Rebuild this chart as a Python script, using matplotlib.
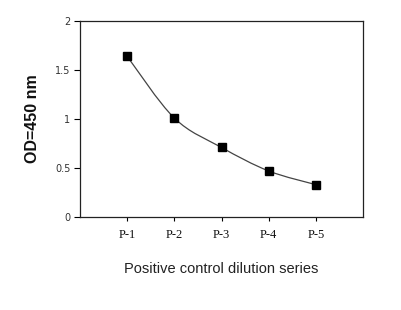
import matplotlib
matplotlib.use('Agg')
import matplotlib.pyplot as plt
import numpy as np
from matplotlib.path import Path
from matplotlib.patches import PathPatch

# Data
samples = ['P-1', 'P-2', 'P-3', 'P-4', 'P-5']
od_values = [1.64, 1.01, 0.71, 0.47, 0.33]

x = np.arange(1, len(samples) + 1)
y = np.array(od_values)

fig = plt.figure(figsize=(4.02, 3.10), dpi=100)
ax = fig.add_axes([0.199, 0.30, 0.704, 0.632])

# smoothed connecting line (Excel-style), Catmull-Rom -> cubic Bezier
pts = np.column_stack([x, y])
verts = [pts[0]]
codes = [Path.MOVETO]
for i in range(len(pts) - 1):
    p0 = pts[i - 1] if i > 0 else pts[i]
    p1 = pts[i]
    p2 = pts[i + 1]
    p3 = pts[i + 2] if i + 2 < len(pts) else pts[i + 1]
    c1 = p1 + (p2 - p0) / 6
    c2 = p2 - (p3 - p1) / 6
    verts += [c1, c2, p2]
    codes += [Path.CURVE4] * 3
ax.add_patch(PathPatch(Path(verts, codes), fill=False, edgecolor='#444444', lw=0.9))

ax.plot(x, y, linestyle='none', marker='s', markersize=5.5, color='black')

ax.set_xlim(0, 6)
ax.set_ylim(0, 2)
ax.set_xticks(x)
ax.set_xticklabels(samples, family='Liberation Serif', fontsize=9, color='#111111')
ax.set_yticks([0, 0.5, 1, 1.5, 2])
ax.set_yticklabels(['0', '0.5', '1', '1.5', '2'], family='DejaVu Sans', fontsize=7, color='#333333')
ax.tick_params(axis='y', direction='out', length=4, width=0.8, pad=3)
ax.tick_params(axis='x', direction='out', length=3, width=0.8, pad=6)

for s in ax.spines.values():
    s.set_linewidth(0.9)
    s.set_color('#222222')

ax.set_xlabel('Positive control dilution series', family='Liberation Sans', fontsize=10.5,
              color='#222222', labelpad=15)
ax.set_ylabel('OD=450 nm', family='Liberation Sans', fontweight='bold', fontsize=11.5,
              color='#111111', labelpad=11)

fig.savefig('out.png', dpi=100)
